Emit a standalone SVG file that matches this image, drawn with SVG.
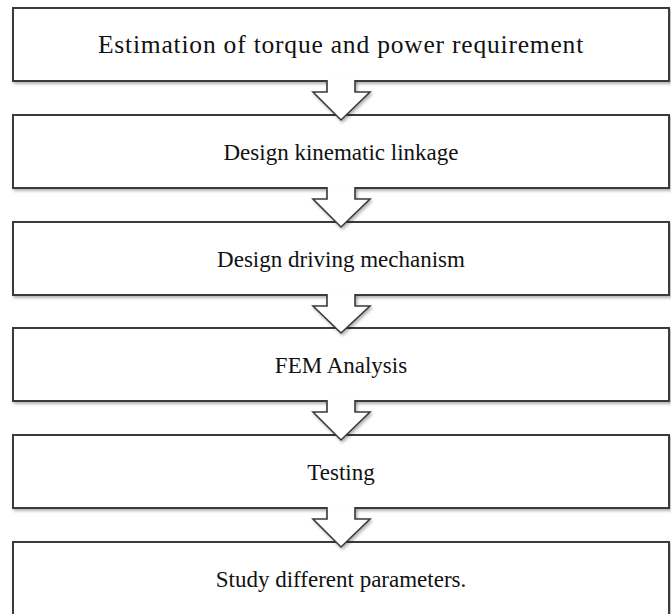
<svg xmlns="http://www.w3.org/2000/svg" width="671" height="614" viewBox="0 0 671 614">
  <defs>
    <filter id="shadow" x="-5%" y="-20%" width="110%" height="140%">
      <feDropShadow dx="1.5" dy="2" stdDeviation="1.5" flood-color="#000" flood-opacity="0.3"/>
    </filter>
  </defs>
  <style>
    .box { fill: #fff; stroke: #3a3a3a; stroke-width: 2; filter: url(#shadow); }
    .arrow { fill: #fff; stroke: #3a3a3a; stroke-width: 1.6; stroke-linejoin: miter; filter: url(#shadow); }
    .label { font-family: "Liberation Serif", "Times New Roman", serif; font-size: 23px; fill: #111; text-anchor: middle; }
    .wide { font-size: 25.5px; letter-spacing: 0.8px; }
  </style>
  <rect width="671" height="614" fill="#fff"/>

  <g id="step1">
    <rect class="box" x="13" y="8" width="656" height="73"/>
    <text class="label wide" x="341" y="53">Estimation of torque and power requirement</text>
  </g>
  <g id="step2">
    <rect class="box" x="13" y="115" width="656" height="73"/>
    <text class="label" x="341" y="160">Design kinematic linkage</text>
  </g>
  <g id="step3">
    <rect class="box" x="13" y="222" width="656" height="73"/>
    <text class="label" x="341" y="267">Design driving mechanism</text>
  </g>
  <g id="step4">
    <rect class="box" x="13" y="328" width="656" height="73"/>
    <text class="label" x="341" y="373">FEM Analysis</text>
  </g>
  <g id="step5">
    <rect class="box" x="13" y="435" width="656" height="73"/>
    <text class="label" x="341" y="480">Testing</text>
  </g>
  <g id="step6">
    <rect class="box" x="13" y="542" width="656" height="90"/>
    <text class="label" x="341" y="587">Study different parameters.</text>
  </g>

  <!-- block arrows between consecutive steps -->
  <g id="connectors">
    <path class="arrow" d="M327,80 V92 H313 L341,120 L370,92 H355 V80"/>
    <path class="arrow" d="M327,187 V199 H313 L341,227 L370,199 H355 V187"/>
    <path class="arrow" d="M327,294 V306 H313 L341,333 L370,306 H355 V294"/>
    <path class="arrow" d="M327,400 V412 H313 L341,440 L370,412 H355 V400"/>
    <path class="arrow" d="M327,507 V519 H313 L341,547 L370,519 H355 V507"/>
  </g>
</svg>
